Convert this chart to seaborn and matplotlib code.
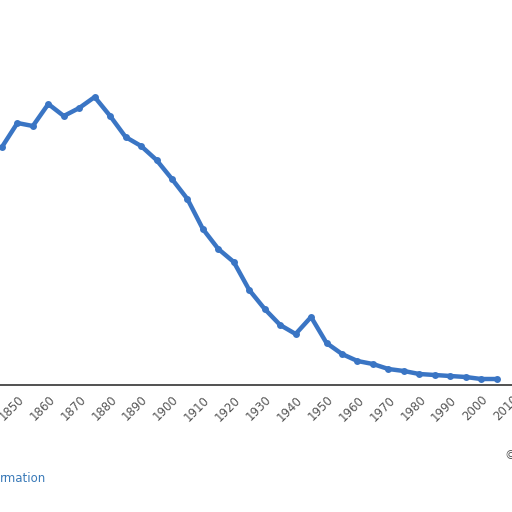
import numpy as np
import pandas as pd
import matplotlib.pyplot as plt
import seaborn as sns

sns.set_style("white")

years = list(range(1845, 2010, 5))
values = [238, 262, 259, 281, 269, 277, 288, 269, 248, 239, 225, 206, 186, 156,
          136, 123, 95, 76, 60, 51, 68, 42, 31, 24, 21, 16, 14, 11, 10, 9, 8, 6, 6]
tick_years = list(range(1850, 2020, 10))

df = pd.DataFrame({"year": years, "value": values})

fig = plt.figure(figsize=(5.12, 5.12), dpi=100)
ax = fig.add_axes([0, 127 / 512, 1, 385 / 512])
sns.lineplot(data=df, x="year", y="value", ax=ax, color="#3a75c4", linewidth=3.2,
             marker="o", markersize=5, markeredgewidth=0)
ax.set_xlim(1844.37, 2006.9)
ax.set_ylim(0, 385)
ax.set_yticks([])
ax.set_xticks(tick_years)
ax.set_xticklabels([str(t) for t in tick_years], rotation=45, ha="right",
                   rotation_mode="anchor", color="#555555", fontsize=8.5)
ax.tick_params(axis="x", length=0, pad=6)
ax.set_xlabel("")
ax.set_ylabel("")
for s in ["top", "right", "left"]:
    ax.spines[s].set_visible(False)
ax.spines["bottom"].set_color("#333333")
ax.spines["bottom"].set_linewidth(1.2)

fig.text(0.0, 1 - 479 / 512, "rmation", color="#3a7ab8", fontsize=8.5, va="center")
fig.text(0.985, 1 - 456 / 512, "©", color="#555555", fontsize=8.5, va="center")

fig.savefig("out.png", dpi=100)
